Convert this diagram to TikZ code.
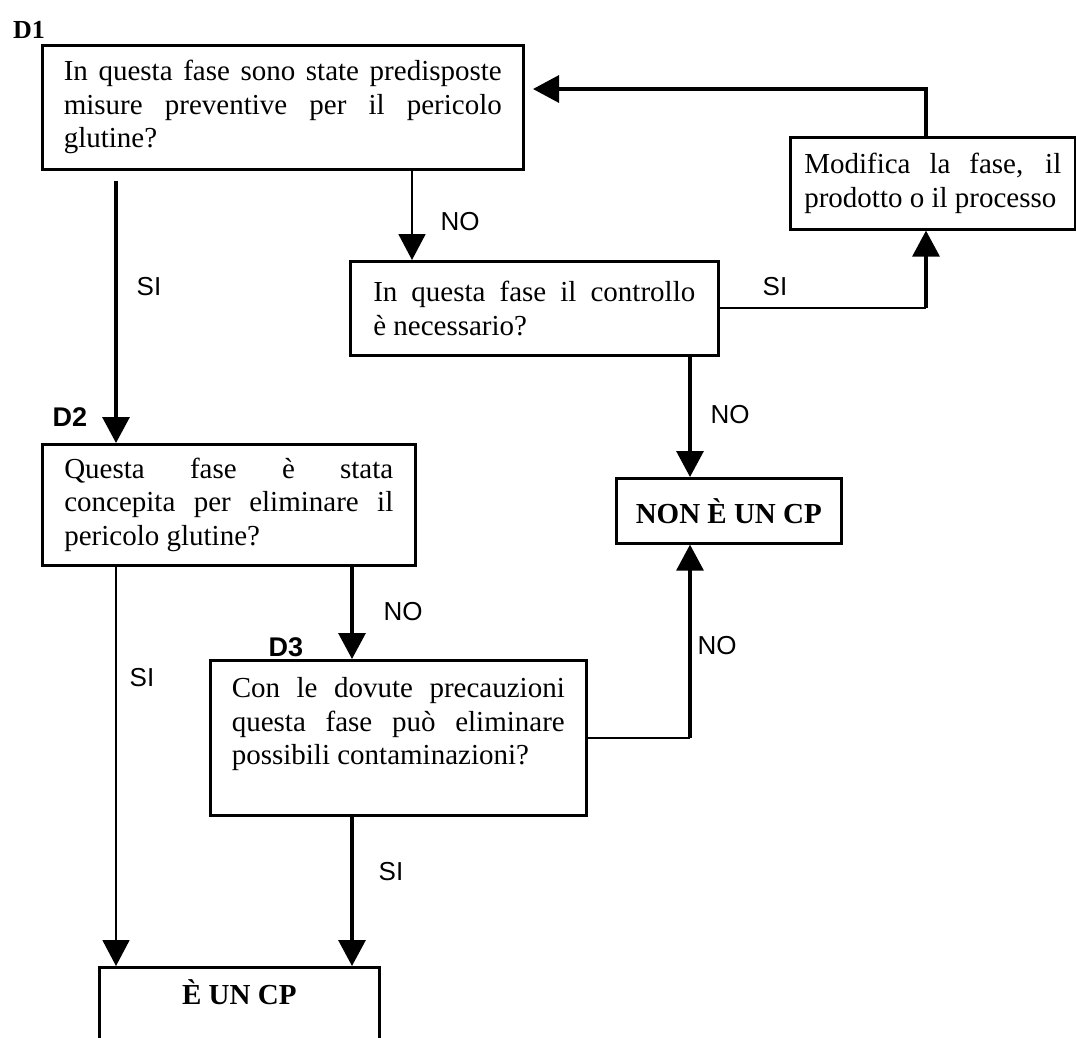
\documentclass[tikz,border=0pt]{standalone}
\usepackage{fontspec}
\setmainfont{Liberation Serif}
\setsansfont{Liberation Sans}
\usepackage{tikz}
\usetikzlibrary{calc,arrows.meta}
\tikzset{
  qbox/.style={draw, line width=2.6pt, anchor=north west, align=justify,
    font=\fontsize{29}{33.5}\selectfont,
    execute at begin node={\hyphenpenalty=10000 \righthyphenmin=62 \tolerance=9999 }},
  endbox/.style={draw, line width=2.6pt, anchor=north west, align=center,
    font=\fontsize{29}{33.5}\selectfont\bfseries},
  tag/.style={font=\fontsize{27}{27}\selectfont\sffamily\bfseries},
  tagrm/.style={font=\fontsize{26}{26}\selectfont\rmfamily\bfseries},
  ans/.style={font=\fontsize{26}{26}\selectfont\sffamily},
  thin line/.style={line width=1.8pt},
  thin arrow/.style={line width=1.8pt, -{Triangle[length=26pt,width=27pt]}},
  thick arrow/.style={line width=3.2pt, -{Triangle[length=26pt,width=27pt]}}
}

\begin{document}
\begin{tikzpicture}[x=1pt, y=-1pt]
\useasboundingbox (0,0) rectangle (1076,1037);

% question boxes
\node[qbox, text width=438pt, inner xsep=21.5pt, minimum height=124pt] (d1) at (41,44)
  {In questa fase sono state predisposte misure preventive per il pericolo glutine?};
\node[qbox, text width=322pt, inner xsep=23pt, minimum height=94pt] (ctrl) at (349,260)
  {In questa fase il controllo\linebreak è necessario?};
\node[qbox, text width=257pt, inner xsep=14pt, minimum height=92pt] (mod) at (789,136)
  {Modifica la fase, il prodotto o il processo};
\node[qbox, text width=329pt, inner xsep=22pt, minimum height=121pt] (d2) at (41,443)
  {Questa fase è stata\linebreak concepita per eliminare il pericolo glutine?};
\node[qbox, text width=333pt, inner xsep=21.5pt, minimum height=155pt] (d3) at (209,659)
  {Con le dovute precauzioni questa fase può eliminare possibili contaminazioni?\\\mbox{}};

% outcomes
\node[endbox, minimum width=225pt, minimum height=65pt] (non) at (615,477) {NON È UN CP};
\node[endbox, minimum width=280pt, inner ysep=12pt, text height=25pt, text depth=60pt] (cp) at (98,966) {È UN CP};

% step tags
\node[tagrm] (t1) at (29,30) {D1};
\node[tag] (t2) at (70,417) {D2};
\node[tag] (t3) at (286,647) {D3};

% columns of the connectors
\coordinate (cA) at (116,0);
\coordinate (cB) at (412,0);
\coordinate (cC) at (352,0);
\coordinate (cD) at (926,0);
\coordinate (cF) at (690,0);
\coordinate (back) at (533,89);

\draw[thick arrow] ($(d1.south -| cA)+(0,10)$) -- (d2.north -| cA);
\draw[thin arrow] (d1.south -| cB) -- (ctrl.north -| cB);
\draw[thin line] (ctrl.east) -- (ctrl.east -| cD);
\draw[thick arrow] (ctrl.east -| cD) -- (mod.south -| cD);
\draw[thick arrow] (mod.north -| cD) |- (back);
\draw[thick arrow] (ctrl.south -| cF) -- (non.north -| cF);
\draw[thin line] (d3.east) -- (d3.east -| cF);
\draw[thick arrow] (d3.east -| cF) -- (non.south -| cF);
\draw[thick arrow] (d2.south -| cC) -- (d3.north -| cC);
\draw[thick arrow] (d3.south -| cC) -- (cp.north -| cC);
\draw[thin arrow] (d2.south -| cA) -- (cp.north -| cA);

% answers
\node[ans] (a1) at (149,287) {SI};
\node[ans] (a2) at (460,222) {NO};
\node[ans] (a3) at (775,287) {SI};
\node[ans] (a4) at (730,415) {NO};
\node[ans] (a5) at (403,612) {NO};
\node[ans] (a6) at (717,646) {NO};
\node[ans] (a7) at (142,678) {SI};
\node[ans] (a8) at (391,872) {SI};
\end{tikzpicture}
\end{document}
